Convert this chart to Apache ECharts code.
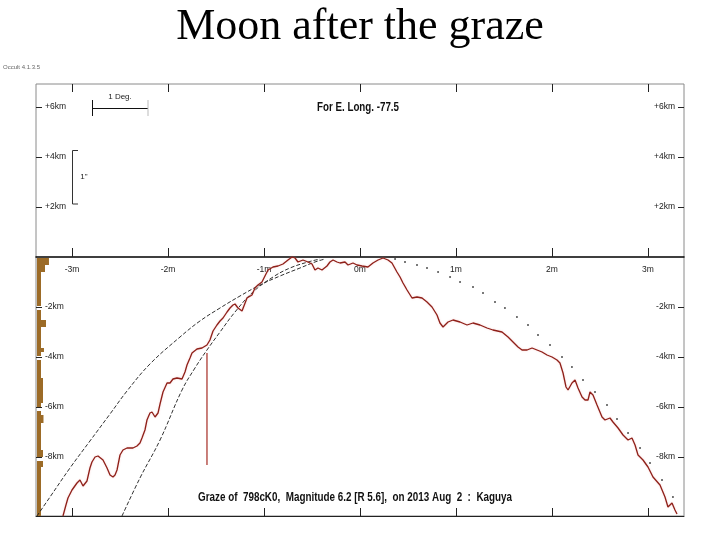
<!DOCTYPE html>
<html><head><meta charset="utf-8">
<script src="https://cdn.jsdelivr.net/npm/echarts@6/dist/echarts.min.js"></script>
<style>html,body{margin:0;padding:0;background:#fff}#c{width:720px;height:540px}</style>
</head><body><div id="c"></div>
<script>
// ---- data (x in minutes, y in km) ----
const xTicks = [-3, -2, -1, 0, 1, 2, 3];
const xTickLabels = ['-3m', '-2m', '-1m', '0m', '1m', '2m', '3m'];
const yTicks = [6, 4, 2, -2, -4, -6, -8];
const yTickLabels = ['+6km', '+4km', '+2km', '-2km', '-4km', '-6km', '-8km'];

const redX = [-3.094,-3.063,-3.042,-3.000,-2.948,-2.917,-2.885,-2.865,-2.844,-2.813,-2.792,-2.760,-2.729,-2.677,-2.635,-2.604,-2.573,-2.552,-2.531,-2.500,
 -2.469,-2.427,-2.365,-2.323,-2.292,-2.271,-2.240,-2.219,-2.188,-2.167,-2.135,-2.104,-2.083,-2.052,-2.010,-1.979,-1.948,-1.906,-1.854,-1.823,
 -1.802,-1.771,-1.750,-1.698,-1.646,-1.594,-1.563,-1.531,-1.490,-1.458,-1.427,-1.385,-1.354,-1.323,-1.302,-1.271,-1.229,-1.177,-1.125,-1.094,
 -1.063,-1.021,-0.990,-0.958,-0.906,-0.854,-0.802,-0.750,-0.708,-0.677,-0.646,-0.594,-0.542,-0.500,-0.469,-0.438,-0.396,-0.344,-0.313,-0.281,
 -0.240,-0.208,-0.156,-0.125,-0.073,-0.031,0.021,0.083,0.135,0.188,0.240,0.292,0.333,0.385,0.417,0.448,0.490,0.542,0.594,0.646,
 0.698,0.750,0.802,0.833,0.865,0.917,0.969,1.042,1.115,1.177,1.250,1.323,1.385,1.479,1.542,1.594,1.646,1.688,1.740,1.792,
 1.844,1.896,1.948,2.000,2.052,2.083,2.115,2.146,2.167,2.208,2.240,2.271,2.313,2.344,2.375,2.396,2.427,2.469,2.521,2.552,
 2.604,2.635,2.688,2.740,2.792,2.833,2.865,2.896,2.948,3.000,3.052,3.125,3.177,3.208,3.250,3.281,3.302];
const redY = [-10.36,-9.92,-9.64,-9.32,-9.04,-8.92,-9.16,-9.24,-8.96,-8.44,-8.20,-8.00,-7.96,-8.12,-8.44,-8.72,-8.80,-8.72,-8.52,-7.92,
 -7.72,-7.64,-7.64,-7.56,-7.44,-7.24,-6.92,-6.52,-6.24,-6.20,-6.40,-6.24,-5.88,-5.40,-5.04,-5.04,-4.88,-4.84,-4.88,-4.60,
 -4.32,-4.04,-3.84,-3.68,-3.64,-3.52,-3.32,-2.96,-2.72,-2.56,-2.44,-2.20,-2.04,-1.92,-1.88,-2.04,-2.16,-1.64,-1.52,-1.24,
 -1.12,-1.00,-0.76,-0.52,-0.40,-0.36,-0.28,-0.12,0.00,-0.04,-0.20,-0.12,-0.20,-0.28,-0.52,-0.44,-0.52,-0.36,-0.20,-0.12,
 -0.20,-0.24,-0.20,-0.32,-0.24,-0.32,-0.36,-0.40,-0.24,-0.12,-0.04,-0.12,-0.24,-0.60,-0.80,-1.04,-1.32,-1.64,-1.60,-1.64,
 -1.80,-2.00,-2.32,-2.64,-2.80,-2.60,-2.52,-2.60,-2.72,-2.64,-2.72,-2.84,-2.92,-3.00,-3.20,-3.40,-3.60,-3.72,-3.72,-3.64,
 -3.72,-3.80,-3.92,-4.00,-4.12,-4.24,-4.64,-5.20,-5.32,-5.04,-4.92,-5.24,-5.60,-5.72,-5.72,-5.40,-5.52,-5.92,-6.40,-6.52,
 -6.44,-6.60,-6.84,-7.12,-7.32,-7.24,-7.52,-7.92,-8.12,-8.40,-8.80,-9.12,-9.60,-10.00,-9.84,-10.12,-10.28];

const outerX = [-3.365,-3.229,-3.021,-2.813,-2.604,-2.427,-2.188,-1.875,-1.667,-1.458,-1.250,-1.042,-0.833,-0.625,-0.469,-0.365];
const outerY = [-10.36,-9.60,-8.44,-7.36,-6.28,-5.36,-4.28,-3.20,-2.56,-2.04,-1.56,-1.12,-0.76,-0.44,-0.20,-0.08];
const innerX = [-2.479,-2.292,-2.083,-1.854,-1.719,-1.594,-1.458,-1.302,-1.115,-0.906,-0.729,-0.542,-0.417];
const innerY = [-10.36,-8.84,-7.32,-5.32,-4.44,-3.72,-3.00,-2.20,-1.40,-0.80,-0.44,-0.20,-0.08];

const dotX = [0.365,0.469,0.594,0.698,0.813,0.938,1.042,1.177,1.281,1.406,1.510,1.635,1.750,1.854,1.979,2.104,2.208,2.323,2.448,2.573,2.677,2.792,2.917,3.021,3.146,3.260];
const dotY = [-0.08,-0.20,-0.32,-0.44,-0.60,-0.80,-1.00,-1.20,-1.44,-1.80,-2.04,-2.40,-2.72,-3.12,-3.52,-4.00,-4.40,-4.92,-5.40,-5.92,-6.48,-7.04,-7.64,-8.24,-8.92,-9.60];

const markerX = [-1.594, -1.594];
const markerY = [-3.84, -8.32];

const brownLeft = -3.365;
const brownTop    = [-0.04,-0.32,-0.60,-2.12,-2.52,-2.80,-3.64,-3.80,-4.12,-4.84,-5.84,-6.16,-6.32,-6.64,-7.72,-8.16,-8.40];
const brownBottom = [-0.32,-0.60,-1.96,-2.52,-2.80,-3.64,-3.80,-3.96,-4.84,-5.84,-6.00,-6.32,-6.64,-7.72,-8.00,-8.40,-10.36];
const brownRight  = [-3.240,-3.281,-3.323,-3.323,-3.271,-3.323,-3.292,-3.323,-3.323,-3.302,-3.323,-3.323,-3.297,-3.323,-3.302,-3.302,-3.323];

const X_MIN = -3.375, X_MAX = 3.375, Y_MIN = -10.36, Y_MAX = 6.92;

// ---- helpers ----
const zip = (a, b) => a.map((v, i) => [v, b[i]]);
const lab = (ticks, labels) => v => { const i = ticks.findIndex(t => Math.abs(t - v) < 1e-6); return i >= 0 ? labels[i] : ''; };
const mctx = document.createElement('canvas').getContext('2d');
function fitScale(text, font, w) { mctx.font = font; return w / mctx.measureText(text).width; }

const chart = echarts.init(document.getElementById('c'), null, {renderer: 'canvas'});

const tickStyle = {color: '#222', width: 1};
const labelFont = {fontFamily: 'Liberation Sans', fontSize: 8.5, color: '#1a1a1a'};

const headFont = 'bold 12px "Liberation Sans"';
const headText = 'For E. Long. -77.5';
const footText = 'Graze of  798cK0,  Magnitude 6.2 [R 5.6],  on 2013 Aug  2  :  Kaguya';

// Y position of the zero line in pixels follows from the axis range
const zeroFrac = Y_MAX / (Y_MAX - Y_MIN);
const plotTop = 84, plotBottom = 516;
const zeroPx = plotTop + (plotBottom - plotTop) * zeroFrac;

const option = {
  animation: false,
  backgroundColor: '#fff',
  grid: [
    {left: 36, right: 36, top: plotTop, bottom: 540 - plotBottom, show: true, borderColor: '#8a8a8a', borderWidth: 1},
    {left: 36, right: 36, top: plotTop, bottom: 540 - zeroPx, show: false}
  ],
  xAxis: [
    {gridIndex: 0, type: 'value', min: X_MIN, max: X_MAX, position: 'bottom',
     axisLine: {show: true, onZero: false, lineStyle: {color: '#222', width: 1}},
     axisTick: {show: true, inside: true, length: 8, customValues: xTicks, lineStyle: tickStyle},
     axisLabel: {show: false}, splitLine: {show: false}},
    {gridIndex: 0, type: 'value', min: X_MIN, max: X_MAX, position: 'top',
     axisLine: {show: false, onZero: false},
     axisTick: {show: true, inside: true, length: 8, customValues: xTicks, lineStyle: tickStyle},
     axisLabel: {show: false}, splitLine: {show: false}},
    {gridIndex: 1, type: 'value', min: X_MIN, max: X_MAX, position: 'bottom',
     axisLine: {show: true, onZero: false, lineStyle: {color: '#000', width: 1.5}},
     axisTick: {show: true, inside: true, length: 9, customValues: xTicks, lineStyle: tickStyle},
     axisLabel: Object.assign({show: true, customValues: xTicks, formatter: lab(xTicks, xTickLabels), margin: 8}, labelFont),
     splitLine: {show: false}}
  ],
  yAxis: [
    {gridIndex: 0, type: 'value', min: Y_MIN, max: Y_MAX, position: 'left',
     axisLine: {show: false, onZero: false},
     axisTick: {show: true, inside: true, length: 6, customValues: yTicks, lineStyle: tickStyle},
     axisLabel: Object.assign({show: true, inside: true, customValues: yTicks, formatter: lab(yTicks, yTickLabels), margin: 9}, labelFont),
     splitLine: {show: false}},
    {gridIndex: 0, type: 'value', min: Y_MIN, max: Y_MAX, position: 'right',
     axisLine: {show: false, onZero: false},
     axisTick: {show: true, inside: true, length: 6, customValues: yTicks, lineStyle: tickStyle},
     axisLabel: Object.assign({show: true, inside: true, customValues: yTicks, formatter: lab(yTicks, yTickLabels), margin: 9}, labelFont),
     splitLine: {show: false}},
    {gridIndex: 1, type: 'value', min: 0, max: Y_MAX, show: false}
  ],
  series: [
    {type: 'custom', name: 'strip', xAxisIndex: 0, yAxisIndex: 0,
     data: brownTop.map((t, i) => [brownLeft, t, brownRight[i], brownBottom[i]]),
     encode: {x: [0, 2], y: [1, 3]},
     renderItem: (params, api) => {
       const p1 = api.coord([api.value(0), api.value(1)]);
       const p2 = api.coord([api.value(2), api.value(3)]);
       return {type: 'rect', shape: {x: p1[0], y: p1[1], width: p2[0] - p1[0], height: p2[1] - p1[1]}, style: {fill: '#9c6b27'}};
     }},
    {type: 'line', name: 'outer', xAxisIndex: 0, yAxisIndex: 0, data: zip(outerX, outerY), showSymbol: false, smooth: 0.4,
     lineStyle: {color: '#1a1a1a', width: 0.9, type: [4, 2]}},
    {type: 'line', name: 'inner', xAxisIndex: 0, yAxisIndex: 0, data: zip(innerX, innerY), showSymbol: false, smooth: 0.4,
     lineStyle: {color: '#1a1a1a', width: 0.9, type: [4, 2]}},
    {type: 'scatter', name: 'dots', xAxisIndex: 0, yAxisIndex: 0, data: zip(dotX, dotY), symbolSize: 2, itemStyle: {color: '#222'}},
    {type: 'line', name: 'marker', xAxisIndex: 0, yAxisIndex: 0, data: zip(markerX, markerY), showSymbol: false,
     lineStyle: {color: '#a52a22', width: 1.2}},
    {type: 'line', name: 'profile', xAxisIndex: 0, yAxisIndex: 0, data: zip(redX, redY), showSymbol: false, z: 5,
     lineStyle: {color: '#8e2019', width: 1.3, shadowColor: 'rgba(240,150,150,0.45)', shadowBlur: 2}}
  ],
  graphic: [
    {type: 'text', x: 360, y: 27, style: {text: 'Moon after the graze', font: '44px "Liberation Serif"', fill: '#000', textAlign: 'center', textVerticalAlign: 'middle'}},
    {type: 'text', x: 3, y: 67, style: {text: 'Occult 4.1.3.5', font: '6px "Liberation Sans"', fill: '#666', textAlign: 'left', textVerticalAlign: 'middle'}},
    {type: 'text', x: 358, y: 108, scaleX: fitScale(headText, headFont, 82), style: {text: headText, font: headFont, fill: '#111', textAlign: 'center', textVerticalAlign: 'middle'}},
    {type: 'text', x: 355, y: 498, scaleX: fitScale(footText, headFont, 314), style: {text: footText, font: headFont, fill: '#111', textAlign: 'center', textVerticalAlign: 'middle'}},
    // 1 Deg. scale bar
    {type: 'line', shape: {x1: 92, y1: 108.5, x2: 148, y2: 108.5}, style: {stroke: '#111', lineWidth: 1.2}},
    {type: 'line', shape: {x1: 92.5, y1: 100, x2: 92.5, y2: 116}, style: {stroke: '#111', lineWidth: 1}},
    {type: 'line', shape: {x1: 148, y1: 100, x2: 148, y2: 116}, style: {stroke: '#bbb', lineWidth: 1}},
    {type: 'text', x: 120, y: 97, style: {text: '1 Deg.', font: '8px "Liberation Sans"', fill: '#222', textAlign: 'center', textVerticalAlign: 'middle'}},
    // 1" bracket
    {type: 'line', shape: {x1: 72.5, y1: 150.5, x2: 72.5, y2: 204}, style: {stroke: '#333', lineWidth: 1}},
    {type: 'line', shape: {x1: 72.5, y1: 150.5, x2: 78, y2: 150.5}, style: {stroke: '#333', lineWidth: 1}},
    {type: 'line', shape: {x1: 72.5, y1: 204, x2: 78, y2: 204}, style: {stroke: '#333', lineWidth: 1}},
    {type: 'text', x: 84, y: 177, style: {text: '1"', font: '8px "Liberation Sans"', fill: '#222', textAlign: 'center', textVerticalAlign: 'middle'}}
  ]
};
chart.setOption(option);
</script></body></html>
